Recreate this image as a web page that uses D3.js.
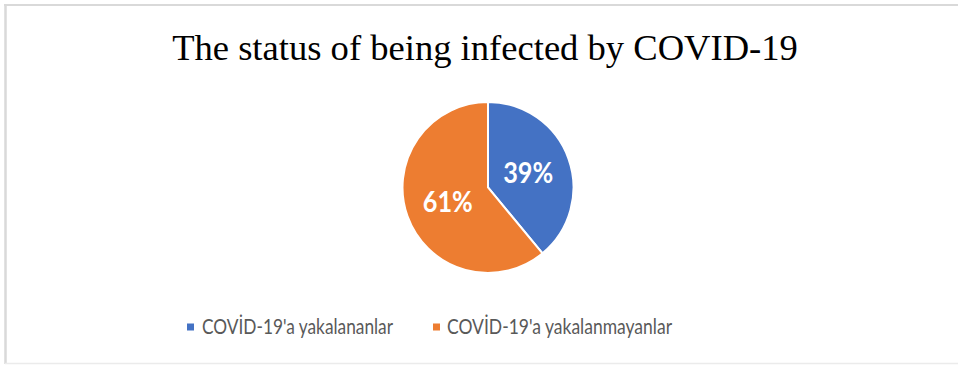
<!DOCTYPE html>
<html>
<head>
<meta charset="utf-8">
<script src="https://cdn.jsdelivr.net/npm/d3@7"></script>
<style>
html,body{margin:0;padding:0;background:#fff;}
svg{display:block;}
</style>
</head>
<body>
<svg id="chart" width="958" height="365"></svg>
<script>
const title = "The status of being infected by COVID-19";
const categories = ["COVİD-19'a yakalananlar", "COVİD-19'a yakalanmayanlar"];
const values = [39, 61];
const colors = ["#4472C4", "#ED7D31"];

const svg = d3.select("#chart");

// frame
svg.append("line").attr("x1", 4).attr("x2", 958).attr("y1", 5).attr("y2", 5)
  .attr("stroke", "#d9d9d9").attr("stroke-width", 2);
svg.append("line").attr("x1", 5.5).attr("x2", 5.5).attr("y1", 4).attr("y2", 364)
  .attr("stroke", "#d9d9d9").attr("stroke-width", 2.5);
svg.append("line").attr("x1", 5).attr("x2", 958).attr("y1", 363.5).attr("y2", 363.5)
  .attr("stroke", "#ebebeb").attr("stroke-width", 1.5);

// title
const t = svg.append("text")
  .attr("x", 485).attr("y", 60)
  .attr("text-anchor", "middle")
  .attr("font-family", "'Liberation Serif', 'Times New Roman', serif")
  .attr("font-size", 38)
  .attr("fill", "#000")
  .text(title);
const tw = t.node().getComputedTextLength();
t.attr("font-size", 38 * 626 / tw);

// pie
const cx = 488, cy = 187.5, R = 85.5;
const pie = d3.pie().sort(null).value(d => d)(values);
const arc = d3.arc().innerRadius(0).outerRadius(R);
const g = svg.append("g").attr("transform", `translate(${cx},${cy})`);
g.selectAll("path").data(pie).join("path")
  .attr("d", arc)
  .attr("fill", (d, i) => colors[i])
  .attr("stroke", "#fff")
  .attr("stroke-width", 2);

const fmt = d3.format(".0%");
const total = d3.sum(values);
g.selectAll("text.lbl").data(pie).join("text")
  .attr("class", "lbl")
  .attr("transform", d => `translate(${arc.centroid(d)})`)
  .attr("text-anchor", "middle")
  .attr("dy", "0.36em")
  .attr("font-family", "Lato, 'Open Sans', sans-serif")
  .attr("font-weight", "bold")
  .attr("font-size", 28)
  .attr("textLength", 50)
  .attr("lengthAdjust", "spacingAndGlyphs")
  .attr("fill", "#fff")
  .text(d => fmt(d.data / total));

// legend
const legendY = 327;
const items = [
  {x: 187, tx: 202, w: 191},
  {x: 433, tx: 447, w: 225}
];
categories.forEach((c, i) => {
  svg.append("rect")
    .attr("x", items[i].x).attr("y", legendY - 3.5)
    .attr("width", 7).attr("height", 7)
    .attr("fill", colors[i]);
  svg.append("text")
    .attr("x", items[i].tx).attr("y", legendY)
    .attr("dy", "0.35em")
    .attr("font-family", "Lato, 'Open Sans', sans-serif")
    .attr("font-size", 21)
    .attr("textLength", items[i].w)
    .attr("lengthAdjust", "spacingAndGlyphs")
    .attr("fill", "#595959")
    .text(c);
});
</script>
</body>
</html>
